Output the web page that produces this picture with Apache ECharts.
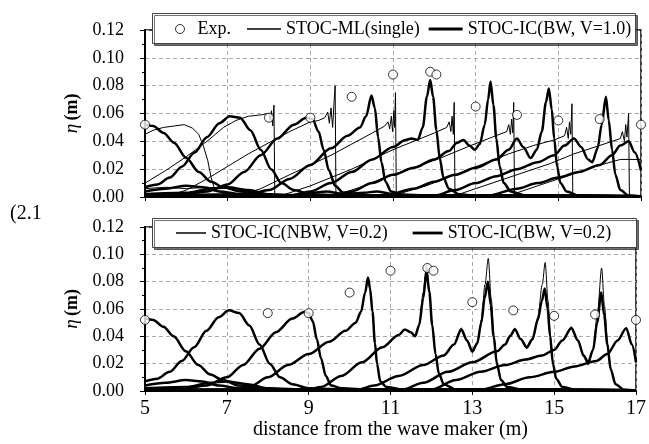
<!DOCTYPE html>
<html><head><meta charset="utf-8">
<script src="https://cdn.jsdelivr.net/npm/echarts@6.0.0/dist/echarts.min.js"></script>
<style>html,body{margin:0;padding:0;background:#fff}#c{width:649px;height:444px}</style>
</head><body><div id="c"></div>
<script>
// ---------- data ----------
const expX = [5.0, 8.0, 9.0, 10.0, 11.0, 11.9, 12.05, 13.0, 14.0, 15.0, 16.0, 17.0];
const expY = [0.052, 0.057, 0.057, 0.072, 0.088, 0.090, 0.088, 0.065, 0.059, 0.055, 0.056, 0.052];
const yTicks = [0, 0.02, 0.04, 0.06, 0.08, 0.10, 0.12];
const xTicks = [5, 7, 9, 11, 13, 15, 17];

// top panel: STOC-IC(BW, V=1.0) snapshots
const ic1_a = [[5.0,0.052],[5.2,0.051],[5.45,0.046],[5.7,0.039],[6.0,0.028],[6.3,0.018],[6.6,0.011],[6.9,0.007],[7.3,0.004],[7.8,0.002],[8.5,0.001],[10,0.0005],[17,0.0005]];
const ic1_b = [[5.0,0.007],[5.3,0.009],[5.6,0.014],[5.9,0.022],[6.2,0.032],[6.5,0.043],[6.8,0.053],[7.05,0.058],[7.3,0.057],[7.55,0.048],[7.8,0.034],[8.05,0.020],[8.3,0.010],[8.6,0.005],[9.0,0.002],[10,0.001],[17,0.0005]];
const ic1_c = [[5,0.001],[6.0,0.002],[6.5,0.004],[7.0,0.009],[7.4,0.018],[7.8,0.030],[8.2,0.042],[8.6,0.052],[8.9,0.057],[9.05,0.056],[9.2,0.047],[9.32,0.034],[9.45,0.019],[9.6,0.008],[9.8,0.003],[10.5,0.001],[17,0.0005]];
const ic1_d = [[5,0.001],[7.5,0.002],[8.0,0.005],[8.5,0.013],[9.0,0.023],[9.5,0.035],[9.9,0.044],[10.2,0.050],[10.35,0.058],[10.48,0.073],[10.56,0.064],[10.64,0.043],[10.72,0.025],[10.82,0.011],[10.95,0.004],[11.3,0.001],[17,0.0005]];
const ic1_e = [[5,0.0005],[8.5,0.001],[9.0,0.004],[9.5,0.010],[10.0,0.018],[10.5,0.027],[11.0,0.036],[11.3,0.041],[11.45,0.042],[11.6,0.041],[11.72,0.050],[11.82,0.072],[11.9,0.084],[11.97,0.072],[12.05,0.048],[12.13,0.028],[12.22,0.014],[12.35,0.006],[12.6,0.002],[13,0.001],[17,0.0005]];
const ic1_f = [[5,0.0005],[9.5,0.001],[10.0,0.004],[10.5,0.010],[11.0,0.016],[11.5,0.021],[12.0,0.027],[12.35,0.033],[12.55,0.039],[12.7,0.041],[12.85,0.037],[12.98,0.034],[13.1,0.038],[13.22,0.052],[13.3,0.070],[13.36,0.083],[13.43,0.066],[13.5,0.042],[13.58,0.022],[13.68,0.010],[13.85,0.004],[14.2,0.001],[17,0.0005]];
const ic1_g = [[5,0.0005],[10.8,0.001],[11.5,0.006],[12.0,0.011],[12.5,0.016],[13.0,0.021],[13.5,0.027],[13.8,0.034],[14.0,0.042],[14.15,0.036],[14.33,0.028],[14.48,0.034],[14.6,0.047],[14.7,0.068],[14.77,0.078],[14.84,0.063],[14.9,0.042],[14.97,0.022],[15.05,0.010],[15.2,0.004],[15.5,0.001],[17,0.0005]];
const ic1_h = [[5,0.0005],[12.0,0.001],[12.5,0.005],[13.0,0.010],[13.5,0.015],[14.0,0.020],[14.5,0.025],[14.9,0.030],[15.15,0.037],[15.38,0.042],[15.55,0.036],[15.72,0.027],[15.82,0.025],[15.95,0.035],[16.05,0.052],[16.15,0.072],[16.22,0.055],[16.3,0.034],[16.38,0.016],[16.5,0.005],[16.7,0.001],[17,0.0005]];
const ic1_i = [[5,0.0005],[13.3,0.001],[14.0,0.006],[14.5,0.010],[15.0,0.014],[15.5,0.018],[16.0,0.023],[16.3,0.030],[16.5,0.037],[16.7,0.040],[16.85,0.032],[17.0,0.019]];
const ic1_z1 = [[5,0.004],[5.5,0.006],[6.0,0.008],[6.4,0.007],[6.8,0.004],[7.3,0.002],[8,0.001],[17,0.0005]];
const ic1_z2 = [[5,0.002],[6,0.003],[6.6,0.006],[7.0,0.007],[7.5,0.005],[8.0,0.002],[9,0.001],[17,0.0005]];
const ic1_z3 = [[5,0.0005],[8.5,0.001],[9.0,0.003],[9.4,0.004],[9.8,0.002],[10.3,0.003],[10.6,0.004],[11.0,0.002],[12,0.001],[17,0.0005]];

// top panel: STOC-ML(single) snapshots
const ml_1 = [[5.0,0.045],[5.2,0.048],[5.45,0.050],[5.7,0.051],[5.95,0.052],[6.15,0.0495],[6.3,0.045],[6.42,0.036],[6.52,0.026],[6.6,0.014],[6.68,0.006],[6.85,0.003],[7.5,0.001],[17,0.0005]];
const ml_2 = [[5.0,0.010],[5.5,0.019],[6.0,0.029],[6.5,0.040],[6.9,0.050],[7.2,0.055],[7.5,0.058],[7.8,0.059],[8.0,0.060],[8.03,0.055],[8.06,0.062],[8.09,0.051],[8.12,0.066],[8.14,0.0],[8.6,0.001],[17,0.0005]];
const ml_3 = [[5,0.0005],[5.6,0.001],[6.0,0.005],[6.5,0.013],[7.0,0.022],[7.5,0.031],[8.0,0.039],[8.5,0.047],[9.0,0.054],[9.2,0.055],[9.35,0.057],[9.42,0.061],[9.46,0.053],[9.5,0.064],[9.54,0.050],[9.57,0.066],[9.6,0.080],[9.62,0.0],[10,0.0005],[17,0.0005]];
const ml_4 = [[5,0.0005],[7.3,0.001],[7.8,0.006],[8.5,0.016],[9.0,0.023],[9.5,0.030],[10.0,0.038],[10.5,0.046],[10.8,0.051],[10.88,0.054],[10.92,0.049],[10.96,0.058],[10.99,0.047],[11.02,0.062],[11.04,0.050],[11.06,0.075],[11.08,0.0],[11.5,0.0005],[17,0.0005]];
const ml_5 = [[5,0.0005],[8.3,0.001],[9.0,0.008],[9.5,0.014],[10.0,0.020],[10.5,0.027],[11.0,0.034],[11.5,0.040],[12.0,0.046],[12.3,0.050],[12.36,0.054],[12.4,0.047],[12.43,0.058],[12.46,0.045],[12.48,0.068],[12.5,0.0],[13,0.0005],[17,0.0005]];
const ml_6 = [[5,0.0005],[9.6,0.001],[10.2,0.007],[10.8,0.014],[11.5,0.021],[12.15,0.028],[12.8,0.036],[13.4,0.043],[13.75,0.047],[13.8,0.052],[13.84,0.045],[13.87,0.056],[13.9,0.046],[13.92,0.068],[13.94,0.0],[14.4,0.0005],[17,0.0005]];
const ml_7 = [[5,0.0005],[11.0,0.001],[11.8,0.008],[12.5,0.016],[13.2,0.024],[13.8,0.031],[14.4,0.037],[14.9,0.041],[15.15,0.044],[15.2,0.050],[15.24,0.042],[15.27,0.054],[15.3,0.045],[15.33,0.067],[15.35,0.0],[15.8,0.0005],[17,0.0005]];
const ml_8 = [[5,0.0005],[12.5,0.001],[13.2,0.008],[14.0,0.016],[14.8,0.024],[15.38,0.031],[16.0,0.037],[16.5,0.042],[16.55,0.047],[16.6,0.040],[16.63,0.052],[16.66,0.043],[16.7,0.060],[16.72,0.0],[17,0.0005]];
const ml_9 = [[5,0.0005],[13.8,0.001],[14.5,0.008],[15.2,0.015],[15.9,0.022],[16.5,0.027],[17,0.027]];
const ml_z = [[5,0.006],[5.5,0.007],[6,0.006],[6.5,0.007],[7,0.006],[7.5,0.004],[8,0.002],[8.5,0.001],[17,0.0005]];

// bottom panel: STOC-IC(BW, V=0.2) snapshots
const bw2_a = [[5.0,0.053],[5.2,0.052],[5.45,0.047],[5.7,0.040],[6.0,0.029],[6.3,0.019],[6.6,0.012],[6.9,0.008],[7.3,0.004],[7.8,0.002],[8.5,0.001],[17,0.0005]];
const bw2_b = [[5.0,0.007],[5.3,0.009],[5.6,0.014],[5.9,0.022],[6.2,0.032],[6.5,0.044],[6.8,0.054],[7.05,0.059],[7.3,0.057],[7.55,0.048],[7.8,0.034],[8.05,0.020],[8.3,0.010],[8.6,0.005],[9.0,0.002],[10,0.001],[17,0.0005]];
const bw2_c = [[5,0.001],[6.0,0.002],[6.5,0.004],[7.0,0.010],[7.4,0.019],[7.8,0.031],[8.2,0.043],[8.6,0.053],[8.9,0.058],[9.0,0.057],[9.1,0.051],[9.2,0.038],[9.3,0.024],[9.42,0.011],[9.55,0.004],[9.8,0.002],[10.5,0.001],[17,0.0005]];
const bw2_d = [[5,0.0005],[7.2,0.001],[7.6,0.004],[8.0,0.010],[8.5,0.019],[9.0,0.027],[9.5,0.036],[9.9,0.044],[10.15,0.050],[10.28,0.058],[10.38,0.072],[10.45,0.083],[10.5,0.075],[10.56,0.058],[10.62,0.035],[10.67,0.020],[10.75,0.007],[10.9,0.003],[11.3,0.001],[17,0.0005]];
const bw2_e = [[5,0.0005],[9.0,0.001],[9.3,0.003],[9.8,0.011],[10.3,0.021],[10.8,0.032],[11.2,0.041],[11.35,0.045],[11.5,0.043],[11.6,0.040],[11.7,0.048],[11.8,0.068],[11.88,0.088],[11.95,0.072],[12.02,0.048],[12.1,0.027],[12.18,0.013],[12.3,0.005],[12.6,0.001],[17,0.0005]];
const bw2_f = [[5,0.0005],[10.2,0.001],[10.6,0.004],[11.2,0.011],[11.8,0.019],[12.3,0.026],[12.55,0.034],[12.73,0.045],[12.87,0.037],[13.0,0.029],[13.12,0.035],[13.22,0.050],[13.3,0.068],[13.38,0.080],[13.45,0.063],[13.52,0.040],[13.6,0.020],[13.7,0.008],[13.85,0.003],[14.2,0.001],[17,0.0005]];
const bw2_g = [[5,0.0005],[11.3,0.001],[11.8,0.006],[12.4,0.014],[13.0,0.021],[13.6,0.029],[13.8,0.034],[13.92,0.040],[14.04,0.045],[14.18,0.038],[14.33,0.032],[14.47,0.038],[14.6,0.052],[14.7,0.066],[14.77,0.075],[14.84,0.060],[14.9,0.040],[14.97,0.020],[15.05,0.009],[15.2,0.003],[15.5,0.001],[17,0.0005]];
const bw2_h = [[5,0.0005],[12.0,0.001],[12.6,0.008],[13.2,0.014],[13.8,0.019],[14.3,0.023],[14.7,0.026],[15.0,0.030],[15.2,0.037],[15.42,0.046],[15.58,0.037],[15.72,0.026],[15.83,0.021],[15.95,0.030],[16.05,0.050],[16.15,0.072],[16.22,0.056],[16.3,0.034],[16.38,0.016],[16.5,0.005],[16.7,0.001],[17,0.0005]];
const bw2_i = [[5,0.0005],[13.2,0.001],[13.8,0.005],[14.4,0.010],[15.0,0.014],[15.5,0.018],[16.03,0.022],[16.3,0.027],[16.55,0.037],[16.76,0.046],[16.9,0.034],[17.0,0.021]];
const bw2_z1 = [[5,0.004],[5.5,0.006],[6.0,0.008],[6.4,0.007],[6.8,0.004],[7.3,0.002],[8,0.001],[17,0.0005]];
const bw2_z2 = [[5,0.002],[6,0.003],[6.6,0.006],[7.0,0.007],[7.5,0.005],[8.0,0.002],[9,0.001],[17,0.0005]];

// bottom panel: STOC-IC(NBW, V=0.2) snapshots that differ from BW
const nbw2_e = [[5,0.0005],[9.0,0.001],[9.3,0.003],[9.8,0.011],[10.3,0.021],[10.8,0.032],[11.2,0.041],[11.35,0.045],[11.5,0.043],[11.6,0.040],[11.7,0.049],[11.8,0.072],[11.88,0.092],[11.95,0.074],[12.02,0.049],[12.1,0.027],[12.18,0.013],[12.3,0.005],[12.6,0.001],[17,0.0005]];
const nbw2_f = [[5,0.0005],[10.2,0.001],[10.6,0.004],[11.2,0.011],[11.8,0.019],[12.3,0.026],[12.55,0.034],[12.73,0.046],[12.87,0.037],[13.0,0.028],[13.12,0.034],[13.22,0.052],[13.31,0.078],[13.39,0.097],[13.46,0.068],[13.53,0.040],[13.61,0.019],[13.7,0.008],[13.85,0.003],[14.2,0.001],[17,0.0005]];
const nbw2_g = [[5,0.0005],[11.3,0.001],[11.8,0.006],[12.4,0.014],[13.0,0.021],[13.6,0.029],[13.8,0.034],[13.92,0.041],[14.04,0.046],[14.18,0.038],[14.33,0.031],[14.47,0.037],[14.6,0.054],[14.71,0.078],[14.78,0.094],[14.85,0.066],[14.91,0.040],[14.98,0.019],[15.05,0.009],[15.2,0.003],[15.5,0.001],[17,0.0005]];
const nbw2_h = [[5,0.0005],[12.0,0.001],[12.6,0.008],[13.2,0.014],[13.8,0.019],[14.3,0.023],[14.7,0.026],[15.0,0.030],[15.2,0.037],[15.42,0.047],[15.58,0.037],[15.72,0.025],[15.83,0.019],[15.95,0.030],[16.06,0.058],[16.16,0.090],[16.23,0.062],[16.31,0.034],[16.39,0.015],[16.5,0.005],[16.7,0.001],[17,0.0005]];

// ---------- chart ----------
const F = '"Liberation Serif", "Times New Roman", serif';
const chart = echarts.init(document.getElementById('c'), null, {renderer: 'canvas'});

function line(name, data, w, gi, smooth) {
  return {
    type: 'line', name: name, data: data, xAxisIndex: gi, yAxisIndex: gi,
    symbol: 'none', showSymbol: false, silent: true, animation: false,
    smooth: smooth ? 0.3 : false, smoothMonotone: 'x',
    lineStyle: {color: '#000', width: w}, itemStyle: {color: '#000'}
  };
}
const expData = expX.map((x, i) => [x, expY[i]]);
function exp(gi) {
  return {type: 'scatter', name: 'Exp.', data: expData, xAxisIndex: gi, yAxisIndex: gi,
    symbol: 'circle', symbolSize: 9, z: 5, silent: true,
    itemStyle: {color: '#fff', borderColor: '#000', borderWidth: 1}};
}

const ML = 'STOC-ML(single)', IC1 = 'STOC-IC(BW, V=1.0)', NBW = 'STOC-IC(NBW, V=0.2)', BW2 = 'STOC-IC(BW, V=0.2)';
const series = [];
series.push(exp(0));
[ml_1, ml_2, ml_3, ml_4, ml_5, ml_6, ml_7, ml_8, ml_9, ml_z].forEach(d => series.push(line(ML, d, 1, 0, false)));
[ic1_a, ic1_b, ic1_c, ic1_d, ic1_e, ic1_f, ic1_g, ic1_h, ic1_i, ic1_z1, ic1_z2, ic1_z3].forEach(d => series.push(line(IC1, d, 2.5, 0, true)));
series.push(exp(1));
[bw2_a, bw2_b, bw2_c, bw2_d, bw2_i].forEach(d => series.push(line(NBW, d, 1, 1, true)));
[bw2_a, bw2_b, bw2_c, bw2_d, bw2_e, bw2_f, bw2_g, bw2_h, bw2_i, bw2_z1, bw2_z2].forEach(d => series.push(line(BW2, d, 2.5, 1, true)));
[nbw2_e, nbw2_f, nbw2_g, nbw2_h].forEach(d => series.push(line(NBW, d, 1, 1, true)));

function xAx(gi, showLabel) {
  return {
    gridIndex: gi, type: 'value', min: xTicks[0], max: xTicks[xTicks.length - 1], interval: 2,
    axisLine: {show: true, onZero: false, lineStyle: {color: '#000', width: 2}},
    axisTick: {show: true, inside: false, length: 4, lineStyle: {color: '#000'}},
    splitLine: {show: true, lineStyle: {color: '#a8a8a8', width: 1, type: [4, 3]}},
    axisLabel: {show: showLabel, fontFamily: F, fontSize: 20, color: '#000', margin: 8},
    name: showLabel ? 'distance from the wave maker (m)' : '',
    nameLocation: 'middle', nameGap: 27,
    nameTextStyle: {fontFamily: F, fontSize: 20, color: '#000'}
  };
}
function yAx(gi) {
  return {
    gridIndex: gi, type: 'value', min: yTicks[0], max: yTicks[yTicks.length - 1], interval: 0.02,
    axisLine: {show: true, onZero: false, lineStyle: {color: '#000', width: 2}},
    axisTick: {show: true, inside: false, length: 5, lineStyle: {color: '#000'}},
    minorTick: {show: true, splitNumber: 2, length: 3, lineStyle: {color: '#000'}},
    splitLine: {show: true, lineStyle: {color: '#a8a8a8', width: 1, type: [4, 3]}},
    axisLabel: {formatter: v => v.toFixed(2), fontFamily: F, fontSize: 18, color: '#000', margin: 21},
    name: '{i|η} {b|(m)}', nameLocation: 'middle', nameGap: 59, nameRotate: 90,
    nameTextStyle: {rich: {
      i: {fontStyle: 'italic', fontFamily: F, fontSize: 19, color: '#000'},
      b: {fontWeight: 'bold', fontFamily: F, fontSize: 18, color: '#000'}
    }}
  };
}
const legendBase = {
  orient: 'horizontal', itemHeight: 9, selectedMode: false, padding: 0,
  textStyle: {fontFamily: F, fontSize: 18, color: '#000'}
};
const thinIcon = 'path://M0,0H34V1.5H0Z';
const thickIcon = 'path://M0,0H34V2.8H0Z';
function boxRect(x, y, w, h) {
  return {type: 'rect', z: 3, silent: true, shape: {x: x, y: y, width: w, height: h},
    style: {fill: '#fff', stroke: '#444', lineWidth: 1,
      shadowColor: 'rgba(0,0,0,0.55)', shadowOffsetX: 2, shadowOffsetY: 2, shadowBlur: 0}};
}

chart.setOption({
  animation: false,
  backgroundColor: '#fff',
  grid: [
    {left: 145, right: 8, top: 30, height: 167, show: true, borderColor: '#000', borderWidth: 1.5},
    {left: 145, right: 8, top: 227, height: 164, show: true, borderColor: '#000', borderWidth: 1.5}
  ],
  xAxis: [xAx(0, false), xAx(1, true)],
  yAxis: [yAx(0), yAx(1)],
  legend: [
    Object.assign({}, legendBase, {left: 175, top: 20, z: 6,
      data: [{name: 'Exp.', icon: 'circle', itemStyle: {color: '#fff', borderColor: '#000', borderWidth: 1}}]}),
    Object.assign({}, legendBase, {left: 247, top: 20, z: 6, itemWidth: 34, itemGap: 9,
      data: [{name: ML, icon: thinIcon, itemStyle: {color: '#000', borderWidth: 0}},
             {name: IC1, icon: thickIcon, itemStyle: {color: '#000', borderWidth: 0}}]}),
    Object.assign({}, legendBase, {left: 176, top: 224, z: 6, itemWidth: 30, itemGap: 25,
      data: [{name: NBW, icon: 'path://M0,0H30V1.5H0Z', itemStyle: {color: '#000', borderWidth: 0}},
             {name: BW2, icon: 'path://M0,0H30V2.8H0Z', itemStyle: {color: '#000', borderWidth: 0}}]})
  ],
  graphic: [
    boxRect(152.5, 13.5, 483, 30),
    boxRect(152.5, 218.5, 484, 29),
    {type: 'text', left: 10, top: 204, style: {text: '(2.1', font: '20px ' + F, fill: '#000'}}
  ],
  series: series
});
</script></body></html>
